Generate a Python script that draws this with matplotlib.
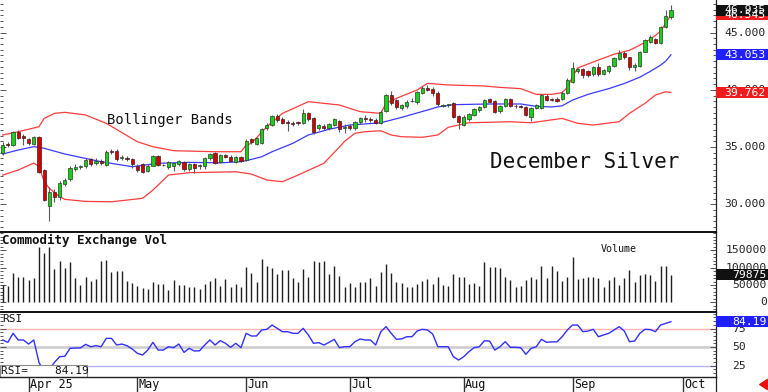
import matplotlib
matplotlib.use("Agg")
import matplotlib.pyplot as plt
from matplotlib.patches import Rectangle, FancyArrowPatch
from matplotlib.ticker import MultipleLocator
import numpy as np

# ---------------------------------------------------------------------
# Data (one candle per trading day, index 0..129)
opens = [34.5, 35.25, 35.2, 36.35, 36.0, 35.7, 35.3, 35.85, 32.99, 29.86,
         31.1, 30.66, 31.8, 32.18, 33.06, 33.23, 33.34, 33.92, 33.6, 33.8,
         33.43, 34.68, 34.68, 34.05, 34.07, 33.93, 33.37, 33.5, 32.93, 33.37,
         34.2, 33.45, 33.28, 33.3, 33.5, 33.7, 33.07, 33.5, 33.3, 33.3,
         34.0, 34.45, 33.7, 34.3, 34.17, 33.7, 34.1, 33.86, 35.68, 35.3,
         35.38, 36.63, 36.9, 37.7, 37.42, 37.15, 37.1, 37.15, 37.13, 37.94,
         37.5, 36.7, 36.84, 36.63, 36.92, 37.3, 36.7, 36.8, 36.63, 37.2,
         37.55, 37.42, 37.36, 37.08, 38.15, 39.54, 39.1, 38.38, 38.58, 39.02,
         38.9, 39.75, 40.19, 40.04, 39.75, 38.6, 38.65, 38.82, 37.7, 36.92,
         37.42, 37.8, 38.24, 38.47, 39.17, 39.05, 38.15, 38.58, 39.17, 38.6,
         38.6, 38.5, 37.6, 38.4, 38.39, 39.45, 39.17, 39.2, 39.17, 39.7,
         40.7, 41.67, 41.8, 41.6, 41.4, 41.97, 41.4, 41.6, 42.07, 42.67,
         43.2, 42.84, 42.0, 42.07, 43.33, 44.2, 44.4, 44.1, 45.46, 46.38]
highs = [35.4, 35.4, 36.4, 36.5, 36.1, 35.8, 36.0, 35.95, 33.1, 31.5,
         31.3, 32.0, 32.3, 33.3, 33.5, 33.45, 34.0, 34.05, 34.0, 33.95,
         34.7, 34.8, 34.8, 34.3, 34.2, 34.0, 33.5, 33.6, 33.5, 34.3,
         34.3, 33.55, 33.8, 33.7, 33.9, 33.8, 33.6, 33.6, 33.5, 34.1,
         34.5, 34.6, 34.4, 34.4, 34.3, 34.2, 34.2, 35.7, 35.8, 35.9,
         36.7, 37.1, 37.8, 37.9, 37.6, 37.36, 37.3, 37.3, 38.3, 38.1,
         37.6, 37.0, 37.0, 37.1, 37.5, 37.4, 37.0, 37.0, 37.3, 37.6,
         37.8, 37.6, 37.5, 38.2, 39.6, 39.9, 39.2, 38.8, 39.1, 39.3,
         39.9, 40.3, 40.4, 40.2, 39.85, 38.8, 38.8, 38.9, 37.8, 37.8,
         38.0, 38.4, 38.6, 39.2, 39.3, 39.15, 38.7, 39.3, 39.3, 38.75,
         38.7, 38.6, 38.5, 38.8, 39.6, 39.6, 39.3, 39.4, 39.9, 41.0,
         42.4, 41.9, 41.9, 41.7, 42.1, 42.3, 41.8, 42.2, 42.9, 43.5,
         43.4, 42.9, 42.3, 43.4, 44.4, 44.8, 44.5, 45.6, 47.0, 47.4]
lows = [34.3, 35.0, 35.1, 35.7, 35.2, 35.2, 35.2, 32.7, 30.3, 28.56,
        30.2, 30.4, 31.6, 32.0, 32.9, 33.1, 33.2, 33.3, 33.4, 33.4,
        33.3, 34.4, 33.8, 33.9, 33.8, 33.2, 32.8, 32.7, 32.8, 33.3,
        33.3, 33.3, 33.1, 32.9, 33.3, 32.9, 32.9, 32.7, 33.1, 33.1,
        33.9, 33.5, 33.6, 34.0, 33.7, 33.6, 33.7, 33.8, 35.3, 35.2,
        35.3, 36.5, 36.8, 37.2, 37.0, 36.4, 36.8, 36.9, 37.0, 37.3,
        36.1, 36.5, 36.5, 36.5, 36.8, 36.3, 36.2, 36.5, 36.5, 37.0,
        37.2, 37.2, 37.0, 37.0, 38.1, 38.7, 38.3, 38.2, 38.4, 38.9,
        38.8, 39.6, 39.9, 39.5, 38.6, 38.5, 38.5, 37.5, 36.6, 36.8,
        37.3, 37.7, 38.1, 38.4, 38.9, 38.0, 38.0, 38.5, 38.5, 38.4,
        38.4, 37.7, 37.3, 38.3, 38.3, 39.0, 39.0, 38.9, 39.1, 39.6,
        40.6, 41.5, 41.0, 41.1, 41.2, 41.2, 41.3, 41.5, 42.0, 42.6,
        42.7, 41.7, 41.6, 42.0, 43.3, 44.1, 44.0, 44.0, 45.4, 46.2]
closes = [35.2, 35.15, 36.3, 35.8, 35.75, 35.35, 35.9, 32.85, 30.37, 31.1,
          30.66, 31.85, 32.1, 33.14, 33.28, 33.34, 33.87, 33.49, 33.8, 33.6,
          34.59, 34.57, 33.93, 34.12, 33.93, 33.5, 33.0, 32.85, 33.37, 34.2,
          33.4, 33.4, 33.66, 33.6, 33.8, 33.08, 33.5, 33.2, 33.4, 34.0,
          34.4, 33.6, 34.3, 34.1, 33.8, 34.1, 33.8, 35.55, 35.47, 35.76,
          36.54, 36.93, 37.72, 37.36, 37.13, 37.1, 37.05, 37.1, 37.94, 37.45,
          36.3, 36.9, 36.63, 36.98, 37.42, 36.54, 36.75, 36.65, 37.17, 37.5,
          37.45, 37.38, 37.08, 38.09, 39.54, 38.82, 38.47, 38.67, 38.96, 38.98,
          39.84, 40.19, 39.98, 39.7, 38.77, 38.65, 38.7, 37.6, 37.2, 37.66,
          37.9, 38.3, 38.47, 39.1, 38.96, 38.1, 38.58, 39.17, 38.58, 38.55,
          38.5, 37.8, 38.4, 38.7, 39.54, 39.1, 39.13, 39.05, 39.76, 40.86,
          41.9, 41.8, 41.3, 41.3, 42.0, 41.38, 41.7, 42.1, 42.76, 43.19,
          42.84, 42.0, 42.15, 43.34, 44.34, 44.63, 44.1, 45.5, 46.4, 46.935]

volume = [50100, 47200, 83800, 72300, 72300, 64500, 71300, 160900, 141600, 160900,
          96300, 119500, 100200, 117500, 71300, 50100, 72300, 61700, 66500, 120400,
          122400, 86700, 90600, 90600, 62600, 56800, 48200, 42400, 37600, 57800,
          52000, 52000, 35600, 64500, 50100, 50100, 45300, 45300, 37600, 52000,
          61700, 69400, 48200, 66500, 45300, 52000, 45300, 101200, 85700, 59700,
          125200, 105000, 100200, 81900, 93400, 93400, 69400, 57800, 96300, 72300,
          119500, 115600, 119500, 81900, 105000, 76100, 45300, 54900, 43400, 57800,
          57800, 71300, 48200, 86700, 109800, 85700, 59700, 56800, 45300, 43400,
          52000, 61700, 67400, 53000, 72300, 50100, 47200, 80900, 72300, 74200,
          52000, 56800, 47200, 117500, 103100, 103100, 100200, 74200, 64500, 43400,
          47200, 64500, 72300, 67400, 105000, 69400, 106000, 91500, 61700, 72300,
          130100, 67400, 69400, 72300, 72300, 69400, 43400, 64500, 74200, 50100,
          69400, 93400, 57800, 79000, 81900, 79000, 62600, 105000, 106000, 79875]

rsi = [59.5, 56.3, 68.5, 59.5, 59.5, 54.0, 59.5, 29.3, 16.0, 20.0,
       29.3, 36.9, 37.5, 48.2, 48.7, 48.7, 53.6, 50.4, 51.8, 50.4,
       61.7, 61.7, 52.7, 54.0, 51.8, 47.3, 41.5, 39.2, 45.9, 56.3,
       45.9, 45.9, 50.4, 49.1, 54.0, 42.8, 48.2, 44.6, 44.9, 52.7,
       59.5, 52.7, 58.6, 55.0, 49.6, 55.0, 49.1, 68.5, 64.9, 64.9,
       73.0, 73.9, 79.7, 75.2, 70.7, 70.7, 68.5, 68.5, 75.2, 66.3,
       55.0, 55.9, 52.7, 56.3, 60.4, 49.1, 50.4, 50.4, 57.2, 60.8,
       59.5, 59.5, 52.7, 70.7, 77.5, 68.5, 60.4, 61.0, 63.9, 63.9,
       71.6, 73.9, 73.0, 67.6, 50.4, 50.4, 50.4, 36.9, 32.4, 36.9,
       43.7, 49.1, 50.4, 58.5, 58.0, 45.9, 50.4, 57.2, 49.6, 49.6,
       49.1, 40.1, 48.2, 50.4, 60.4, 56.3, 57.0, 57.0, 63.9, 73.0,
       79.7, 79.7, 70.7, 71.6, 73.9, 63.9, 66.3, 68.5, 73.0, 77.4,
       71.6, 57.2, 58.1, 68.5, 73.9, 73.6, 70.7, 79.7, 82.0, 84.19]

# Bollinger bands, read at the day indices where the curves bend
bb_up_idx = [0, 3, 7, 8, 10, 12, 16, 20, 26, 29, 33, 41, 46, 47, 48, 51, 54, 59,
             65, 69, 73, 74, 76, 80, 82, 86, 93, 96, 100, 103, 106, 108, 109,
             110, 111, 115, 118, 121, 123, 125, 127, 128, 129]
bb_up = [36.05, 36.34, 36.77, 37.5, 37.94, 38.03, 37.8, 37.07, 35.46, 35.03,
         34.68, 34.59, 34.59, 35.17, 35.32, 36.77, 37.94, 38.96, 38.67, 38.09,
         37.94, 38.82, 39.25, 39.98, 40.56, 40.42, 40.33, 40.21, 40.1, 39.6,
         39.6, 39.75, 40.2, 41.14, 41.9, 42.6, 43.1, 43.45, 43.9, 44.4, 45.1,
         45.8, 46.545]
bb_mid_idx = [0, 3, 6, 8, 12, 19, 25, 30, 36, 42, 46, 48, 50, 52, 56, 59, 63, 67,
              73, 77, 82, 84, 87, 94, 100, 103, 106, 108, 110, 113, 117, 120,
              123, 125, 127, 128, 129]
bb_mid = [34.39, 34.74, 35.03, 34.89, 34.39, 33.72, 33.28, 33.58, 33.66, 33.62,
          33.72, 33.92, 34.15, 34.59, 35.32, 36.05, 36.55, 36.92, 37.12, 37.59,
          38.23, 38.5, 38.7, 38.76, 38.76, 38.55, 38.5, 38.6, 39.1, 39.6, 40.1,
          40.55, 41.1, 41.6, 42.15, 42.5, 43.053]
bb_low_idx = [0, 3, 6, 7, 8, 9, 11, 12, 16, 21, 27, 29, 32, 36, 45, 48, 51, 54,
              57, 62, 65, 66, 68, 70, 73, 75, 77, 81, 84, 86, 90, 98, 102, 108,
              111, 114, 119, 121, 124, 126, 128, 129]
bb_low = [32.55, 32.99, 33.6, 33.3, 32.0, 31.4, 30.66, 30.43, 30.25, 30.22,
          30.52, 31.24, 32.55, 32.76, 32.84, 32.64, 32.12, 31.97, 32.55, 33.58,
          35.0, 35.5, 36.2, 36.34, 36.42, 36.05, 35.9, 35.85, 36.05, 36.72,
          37.12, 37.21, 37.12, 37.5, 37.07, 36.92, 37.21, 37.94, 38.82, 39.54,
          39.83, 39.762]

# month ticks, in trading-day index units
month_pos = [5.1, 25.9, 47.0, 67.0, 89.0, 110.1, 131.3]
month_lab = ["Apr 25", "May", "Jun", "Jul", "Aug", "Sep", "Oct"]

price_ticks = [30, 35, 40, 45]
vol_ticks = [0, 50000, 100000, 150000]
rsi_ticks = [25, 50, 75]
# ---------------------------------------------------------------------

W, H = 768, 392
PLOT_R = 716
MONO = "DejaVu Sans Mono"
plt.rcParams["font.family"] = MONO

fig = plt.figure(figsize=(W / 100, H / 100), dpi=100)
fig.patch.set_facecolor("white")


def px_rect(x0, y0, x1, y1):
    # pixel box (top-left origin) -> figure fraction rect
    return [x0 / W, 1 - y1 / H, (x1 - x0) / W, (y1 - y0) / H]


ax_p = fig.add_axes(px_rect(0, 0, PLOT_R, 232))
ax_v = fig.add_axes(px_rect(0, 232, PLOT_R, 312))
ax_r = fig.add_axes(px_rect(0, 312, PLOT_R, 377))
ax_x = fig.add_axes(px_rect(0, 377, PLOT_R, 392))

x_lo, x_hi = -0.52, 137.7
for ax in (ax_p, ax_v, ax_r, ax_x):
    ax.set_xlim(x_lo, x_hi)
    ax.set_facecolor("white")
    ax.set_xticks([])
    for s in ("top", "left", "bottom"):
        ax.spines[s].set_visible(False)
    ax.spines["right"].set_color("#222222")
    ax.spines["right"].set_linewidth(0.9)

ax_p.set_ylim(27.58, 47.84)
ax_v.set_ylim(-28000, 203200)
ax_r.set_ylim(9.5, 97.3)
ax_x.set_ylim(0, 1)
ax_x.set_yticks([])

for ax in (ax_v, ax_r):
    ax.spines["top"].set_visible(True)
    ax.spines["top"].set_color("#111111")
    ax.spines["top"].set_linewidth(1.4)
ax_x.spines["top"].set_visible(True)
ax_x.spines["top"].set_color("#222222")
ax_x.spines["top"].set_linewidth(1.0)

# ---------- candles ----------
idx = np.arange(len(closes))
o = np.array(opens)
c = np.array(closes)
up = c >= o
body_lo = np.minimum(o, c)
body_h = np.maximum(np.abs(c - o), 0.07)
ax_p.vlines(idx, lows, highs, color="#5a5a5a", lw=0.8, zorder=2)
ax_p.bar(idx[up], body_h[up], bottom=body_lo[up], width=0.62,
         color="#19d019", edgecolor="#2b3b2b", linewidth=0.5, zorder=3)
ax_p.bar(idx[~up], body_h[~up], bottom=body_lo[~up], width=0.62,
         color="#d40000", edgecolor="#3a2020", linewidth=0.5, zorder=3)

ax_p.plot(bb_up_idx, bb_up, color="#ff3c3c", lw=0.9, zorder=1)
ax_p.plot(bb_low_idx, bb_low, color="#ff3c3c", lw=0.9, zorder=1)
ax_p.plot(bb_mid_idx, bb_mid, color="#3a3aff", lw=0.9, zorder=1)

ax_p.text(107 / PLOT_R, 1 - 120 / 232, "Bollinger Bands", transform=ax_p.transAxes,
          fontsize=10, va="center", ha="left", color="#111111")
ax_p.text(490 / PLOT_R, 1 - 162 / 232, "December Silver", transform=ax_p.transAxes,
          fontsize=15, va="center", ha="left", color="#111111")

# ---------- volume ----------
ax_v.vlines(idx, 0, volume, color="#1e1e1e", lw=1.0)
ax_v.text(2 / PLOT_R, (312 - 240) / 80, "Commodity Exchange Vol", transform=ax_v.transAxes,
          fontsize=9, fontweight="bold", va="center", ha="left", color="#111111")
ax_v.text(601 / PLOT_R, (312 - 249) / 80, "Volume", transform=ax_v.transAxes,
          fontsize=7.2, va="center", ha="left", color="#111111")

# ---------- RSI ----------
ax_r.axhline(75, color="#ffb4b4", lw=1.0, zorder=1)
ax_r.axhline(50, color="#cfcfcf", lw=2.0, zorder=1)
ax_r.axhline(25, color="#b4b4ff", lw=1.0, zorder=1)
ax_r.plot(idx, rsi, color="#3030ff", lw=1.0, zorder=2)
ax_r.text(2 / PLOT_R, (377 - 318.5) / 65, "RSI", transform=ax_r.transAxes,
          fontsize=8, va="center", ha="left", color="#111111")
ax_r.add_patch(Rectangle((0, 0), 87 / PLOT_R, 12 / 65, transform=ax_r.transAxes,
                         fc="white", ec="#8a8a8a", lw=0.8, zorder=5, clip_on=False))
ax_r.text(1 / PLOT_R, 6 / 65, f"RSI=    {rsi[-1]:.2f}", transform=ax_r.transAxes,
          fontsize=8, va="center", ha="left", color="#111111", zorder=6)

# ---------- y ticks (marks only, labels drawn as text) ----------
ax_p.set_yticks(price_ticks)
ax_p.yaxis.set_minor_locator(MultipleLocator(0.5))
ax_v.set_yticks(vol_ticks)
ax_v.yaxis.set_minor_locator(MultipleLocator(10000))
ax_r.set_yticks(rsi_ticks)
ax_r.yaxis.set_minor_locator(MultipleLocator(5))
for ax in (ax_p, ax_v, ax_r):
    ax.tick_params(axis="y", which="both", left=True, right=True, direction="in",
                   labelleft=False, labelright=False, colors="#555555", width=0.7)
    ax.tick_params(axis="y", which="major", length=4)
    ax.tick_params(axis="y", which="minor", length=2)

LBL = 8.2
for v in price_ticks:
    ax_p.text(724 / PLOT_R, v, f"{v:.3f}", transform=ax_p.get_yaxis_transform(),
              fontsize=LBL, va="center", ha="left", color="#222222", zorder=8)
for v in vol_ticks:
    ax_v.text(767 / PLOT_R, v, f"{v}", transform=ax_v.get_yaxis_transform(),
              fontsize=LBL, va="center", ha="right", color="#222222", zorder=8)
for v in rsi_ticks:
    ax_r.text(732 / PLOT_R, v, f"{v}", transform=ax_r.get_yaxis_transform(),
              fontsize=LBL, va="center", ha="left", color="#222222", zorder=8)


def value_tag(ax, val, text, fc, h, tx, ha):
    tr = ax.get_yaxis_transform()
    ax.add_patch(Rectangle((1.0, val - h / 2), (W - PLOT_R) / PLOT_R, h, transform=tr,
                           fc=fc, ec="none", clip_on=False, zorder=10))
    ax.text(tx / PLOT_R, val, text, transform=tr, fontsize=LBL, va="center", ha=ha,
            color="white", zorder=11, clip_on=False)


value_tag(ax_p, bb_up[-1], f"{bb_up[-1]:.3f}", "#ee1c1c", 0.98, 724, "left")
value_tag(ax_p, closes[-1], f"{closes[-1]:.3f}", "#111111", 0.98, 724, "left")
value_tag(ax_p, bb_mid[-1], f"{bb_mid[-1]:.3f}", "#1f1fff", 0.98, 724, "left")
value_tag(ax_p, bb_low[-1], f"{bb_low[-1]:.3f}", "#ee1c1c", 0.98, 724, "left")
value_tag(ax_v, volume[-1], f"{volume[-1]}", "#111111", 33000, 767, "right")
value_tag(ax_r, rsi[-1], f"{rsi[-1]:.2f}", "#1f1fff", 15.5, 767, "right")

# ---------- month strip ----------
ax_x.vlines(month_pos, 0, 1, color="#333333", lw=1.0)
for m, lab in zip(month_pos, month_lab):
    ax_x.text(m + 0.25, 0.5, lab, fontsize=8.5, va="center", ha="left", color="#111111")

fig.add_artist(FancyArrowPatch((767 / W, 1 - 384.5 / H), (757 / W, 1 - 384.5 / H),
                               transform=fig.transFigure, color="#e81010",
                               arrowstyle="simple,head_length=0.6,head_width=0.8,tail_width=0.35",
                               mutation_scale=9))

fig.savefig("out.png", dpi=100, facecolor="white")
